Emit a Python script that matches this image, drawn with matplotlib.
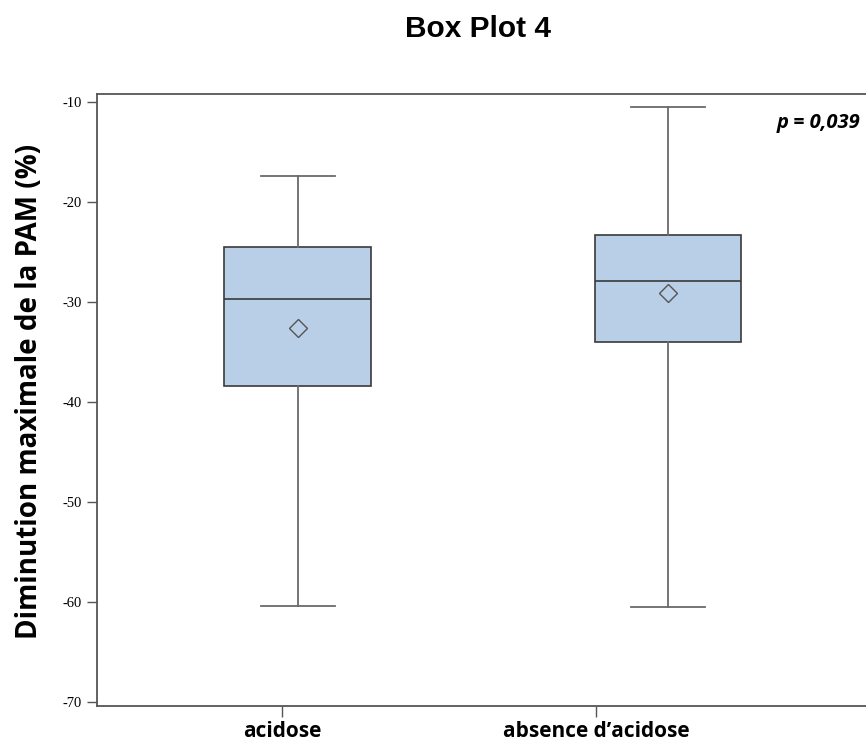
import matplotlib

matplotlib.use("Agg")
import matplotlib.pyplot as plt  # noqa: E402

# data
groups = ["acidose", "absence d\u2019acidose"]
whis_low = [-60.4, -60.5]
q1 = [-38.4, -34.0]
median = [-29.7, -27.9]
q3 = [-24.5, -23.3]
whis_high = [-17.4, -10.5]
mean = [-32.6, -29.1]
yticks = [-10, -20, -30, -40, -50, -60, -70]
p_text = "p = 0,039"

# the reference draws the boxes slightly off the category ticks
box_pos = [1.0, 2.0]
tick_pos = [0.957, 1.805]

stats = [
    dict(whislo=lo, q1=a, med=m, q3=b, whishi=hi, mean=mu, fliers=[])
    for lo, a, m, b, hi, mu in zip(whis_low, q1, median, q3, whis_high, mean)
]

fig = plt.figure(figsize=(8.66, 7.51), dpi=100)
ax = fig.add_axes([0.112, 0.06, 0.888, 0.815])

ax.bxp(
    stats,
    positions=box_pos,
    widths=0.397,
    capwidths=0.2,
    showmeans=True,
    showfliers=False,
    patch_artist=True,
    boxprops=dict(facecolor="#b9cfe7", edgecolor="#3a3a3a", linewidth=1.2),
    medianprops=dict(color="#3a3a3a", linewidth=1.2),
    whiskerprops=dict(color="#6a6a6a", linewidth=1.3),
    capprops=dict(color="#6a6a6a", linewidth=1.3),
    meanprops=dict(marker="D", markerfacecolor="none", markeredgecolor="#555555",
                   markersize=9, markeredgewidth=1.0),
)

ax.set_xlim(0.457, 2.535)
ax.set_ylim(-70.4, -9.2)
ax.set_xticks(tick_pos)
ax.set_xticklabels(groups, fontsize=15, fontweight="bold", family="Open Sans")
ax.set_yticks(yticks)
ax.set_yticklabels([str(t) for t in yticks], fontsize=10.5, family="Liberation Serif")
ax.tick_params(axis="y", length=7, width=1.0, color="#555555", pad=4)
ax.tick_params(axis="x", length=8, width=1.0, color="#555555", pad=3)

for side in ("left", "top", "bottom"):
    ax.spines[side].set_color("#555555")
    ax.spines[side].set_linewidth(1.3)
ax.spines["right"].set_visible(False)

ax.set_ylabel("Diminution maximale de la PAM (%)", fontsize=20, fontweight="bold",
              family="Open Sans")
ax.yaxis.set_label_coords(-0.069, 0.514)

ax.text(0.993, 0.952, p_text, transform=ax.transAxes, ha="right", va="center",
        fontsize=14.5, fontweight="bold", style="italic", family="Open Sans")

fig.text(0.552, 0.961, "Box Plot 4", ha="center", va="center", fontsize=21.5,
         fontweight="bold", family="Liberation Sans")

fig.savefig("out.png", dpi=100)
